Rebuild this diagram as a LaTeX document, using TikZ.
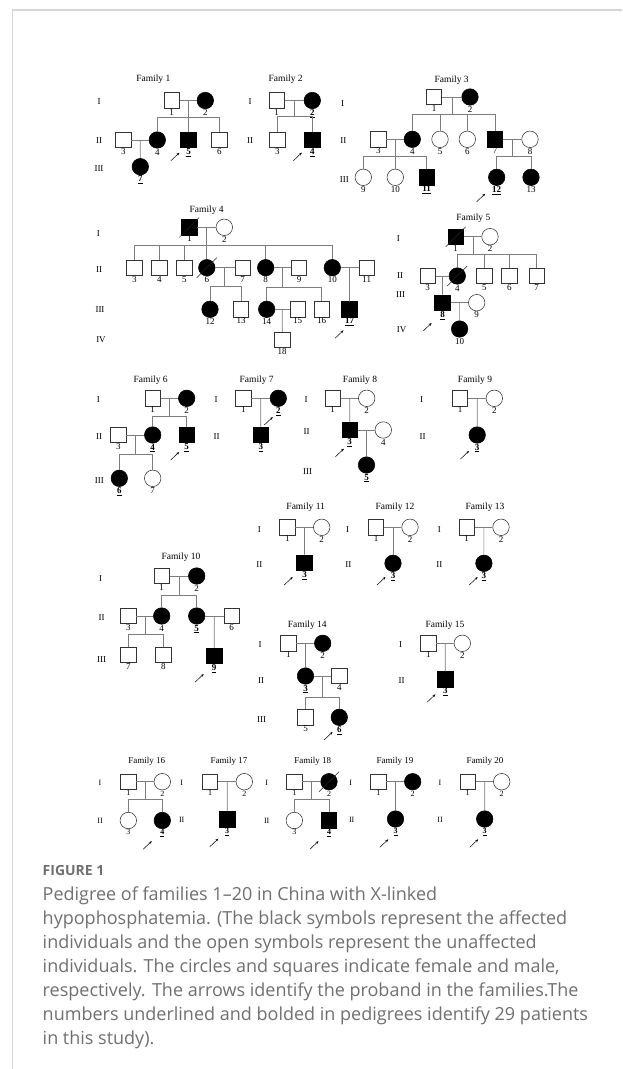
\documentclass[tikz,border=0pt]{standalone}
\usepackage{fontspec}
\setmainfont{Liberation Serif}
\newfontfamily\capfont{Open Sans}
\usetikzlibrary{arrows.meta,calc}
\definecolor{capgray}{RGB}{112,112,112}
\definecolor{framegray}{RGB}{214,214,214}
\definecolor{linegray}{RGB}{125,125,125}
\newcommand{\Pn}[4]{\node[#1,label={[lab]below:{#4}}] (#2) at (#3) {};}
\newcommand{\Bl}[1]{\underline{\textbf{#1}}}
\newcommand{\Mid}[3]{\coordinate (#1) at ($(#2)!0.5!(#3)$); \draw[conn] (#2) -- (#3);}
\newcommand{\Sib}[3]{\coordinate (#1s) at ($(#1)+(0,#2)$); \draw[conn] (#1) -- (#1s); \foreach \ch in {#3} {\draw[conn] (#1s) -| (\ch);}}
\newcommand{\One}[2]{\draw[conn] (#1) -- (#2);}
\newcommand{\Dec}[1]{\draw[black!85,line width=0.5pt] ($(#1)+(-10,10)$) -- ($(#1)+(10,-10)$);}
\newcommand{\Prb}[3]{\draw[prob] ($(#1)+(#2,#3)$) -- ++(8.5,-8);}
\tikzset{
 male/.style={rectangle,draw=black!80,line width=0.55pt,fill=white,minimum size=15.5pt,inner sep=0pt},
 fem/.style={circle,draw=black!80,line width=0.55pt,fill=white,minimum size=16.5pt,inner sep=0pt},
 aff/.style={fill=black,draw=black},
 conn/.style={draw=linegray,line width=0.7pt},
 lab/.style={font=\fontsize{9}{9}\selectfont,inner sep=0.4pt},
 ttl/.style={font=\fontsize{9.5}{10}\selectfont,inner sep=0pt},
 gen/.style={font=\fontsize{9}{10}\selectfont,inner sep=0pt},
 prob/.style={-{Stealth[length=3pt,width=2.4pt]},line width=0.5pt,black},
 capl/.style={font=\capfont\fontsize{18}{24}\selectfont,text=capgray,inner sep=0pt,anchor=base west},
}
\begin{document}
\begin{tikzpicture}[x=1pt,y=-1pt]
\useasboundingbox (0,0) rectangle (622,1069);
\fill[white] (0,0) rectangle (622,1069);
\draw[framegray,line width=1.2pt] (622,10) -- (12.7,10) -- (12.7,1069);

% ---------- Family 1
\node[ttl] (t1) at (153.3,79.3) {Family 1};
\node[gen] (r1a) at (99,101.7) {I};
\node[gen] (r1b) at (99,141) {II};
\node[gen] (r1c) at (99,168.3) {III};
\Pn{male}{p1n1}{171.7,100.5}{1}
\Pn{fem,aff}{p1n2}{205.3,100.5}{2}
\Pn{male}{p1n3}{123.3,140}{3}
\Pn{fem,aff}{p1n4}{157.3,140}{4}
\Pn{male,aff}{p1n5}{188.5,140}{\Bl{5}}
\Pn{male}{p1n6}{219.3,140}{6}
\Pn{fem,aff}{p1n7}{140.3,166.7}{\Bl{7}}
\Mid{p1x1}{p1n1}{p1n2}
\Sib{p1x1}{17}{p1n4,p1n5,p1n6}
\Mid{p1x3}{p1n3}{p1n4}
\One{p1x3}{p1n7}
\Prb{p1n5}{-17.6}{20.7}

% ---------- Family 2
\node[ttl] (t2) at (285.7,79.3) {Family 2};
\node[gen] (r2a) at (250,101.7) {I};
\node[gen] (r2b) at (250,141) {II};
\Pn{male}{p2n1}{276.7,100.5}{1}
\Pn{fem,aff}{p2n2}{312.3,100.5}{\Bl{2}}
\Pn{male}{p2n3}{277.3,140}{3}
\Pn{male,aff}{p2n4}{312.3,140}{\Bl{4}}
\Mid{p2x1}{p2n1}{p2n2}
\Sib{p2x1}{16.2}{p2n3,p2n4}
\Prb{p2n4}{-19}{20.7}

% ---------- Family 3
\node[ttl] (t3) at (451.7,80) {Family 3};
\node[gen] (r3a) at (342.7,103.3) {I};
\node[gen] (r3b) at (343.3,140.7) {II};
\node[gen] (r3c) at (344.3,180) {III};
\Pn{male}{p3n1}{434,97}{1}
\Pn{fem,aff}{p3n2}{470,97}{2}
\Pn{male}{p3n3}{378.3,139.3}{3}
\Pn{fem,aff}{p3n4}{412.3,139.3}{4}
\Pn{fem}{p3n5}{440,139.3}{5}
\Pn{fem}{p3n6}{467.3,139.3}{6}
\Pn{male,aff}{p3n7}{495,139.3}{7}
\Pn{fem}{p3n8}{530,139.3}{8}
\Pn{fem}{p3n9}{363.3,177.3}{9}
\Pn{fem}{p3n10}{395.3,177.3}{10}
\Pn{male,aff}{p3n11}{426.7,177.3}{\Bl{11}}
\Pn{fem,aff}{p3n12}{496.7,177.3}{\Bl{12}}
\Pn{fem,aff}{p3n13}{531,177.3}{13}
\Mid{p3x1}{p3n1}{p3n2}
\Sib{p3x1}{17.3}{p3n4,p3n5,p3n6,p3n7}
\Mid{p3x3}{p3n3}{p3n4}
\Sib{p3x3}{16.7}{p3n9,p3n10,p3n11}
\Mid{p3x7}{p3n7}{p3n8}
\Sib{p3x7}{17.4}{p3n12,p3n13}
\Prb{p3n12}{-20}{24.4}

% ---------- Family 4
\node[ttl] (t4) at (206.7,210) {Family 4};
\node[gen] (r4a) at (98.3,233.3) {I};
\node[gen] (r4b) at (99,270) {II};
\node[gen] (r4c) at (100,309.3) {III};
\node[gen] (r4d) at (101,340) {IV};
\Pn{male,aff}{p4n1}{189.3,227.3}{1}
\Pn{fem}{p4n2}{224.3,227.3}{2}
\Pn{male}{p4n3}{134.3,267.7}{3}
\Pn{male}{p4n4}{159.3,267.7}{4}
\Pn{male}{p4n5}{184.3,267.7}{5}
\Pn{fem,aff}{p4n6}{206.8,267.7}{6}
\Pn{male}{p4n7}{242.7,267.7}{7}
\Pn{fem,aff}{p4n8}{265.7,267.7}{8}
\Pn{male}{p4n9}{299,267.7}{9}
\Pn{fem,aff}{p4n10}{332.3,267.7}{10}
\Pn{male}{p4n11}{366.7,267.7}{11}
\Pn{fem,aff}{p4n12}{210,309.3}{12}
\Pn{male}{p4n13}{241,309.3}{13}
\Pn{fem,aff}{p4n14}{266.7,309.3}{14}
\Pn{male}{p4n15}{297.7,309.3}{15}
\Pn{male}{p4n16}{321.7,309.3}{16}
\Pn{male,aff}{p4n17}{349.5,309.3}{\Bl{17}}
\Pn{male}{p4n18}{282.2,340}{18}
\Mid{p4x1}{p4n1}{p4n2}
\Sib{p4x1}{18.4}{p4n3,p4n4,p4n5,p4n6,p4n8,p4n10}
\Mid{p4x6}{p4n6}{p4n7}
\Sib{p4x6}{18.3}{p4n12,p4n13}
\Mid{p4x8}{p4n8}{p4n9}
\Sib{p4x8}{19.6}{p4n14,p4n16}
\Mid{p4x14}{p4n14}{p4n15}
\One{p4x14}{p4n18}
\Mid{p4x10}{p4n10}{p4n11}
\One{p4x10}{p4n17}
\Dec{p4n1}
\Dec{p4n6}
\Prb{p4n17}{-14.5}{29}

% ---------- Family 5
\node[ttl] (t5) at (473.3,218.3) {Family 5};
\node[gen] (r5a) at (398.3,238.3) {I};
\node[gen] (r5b) at (400,276) {II};
\node[gen] (r5c) at (400.7,294.3) {III};
\node[gen] (r5d) at (401.7,330) {IV};
\Pn{male,aff}{p5n1}{455.7,236.7}{1}
\Pn{fem}{p5n2}{490,236.7}{2}
\Pn{male}{p5n3}{427.7,276}{3}
\Pn{fem,aff}{p5n4}{457.3,276}{4}
\Pn{male}{p5n5}{484.3,276}{5}
\Pn{male}{p5n6}{509.3,276}{6}
\Pn{male}{p5n7}{536.7,276}{7}
\Pn{male,aff}{p5n8}{442.5,302.7}{\Bl{8}}
\Pn{fem}{p5n9}{476.7,302.7}{9}
\Pn{fem,aff}{p5n10}{459.6,329}{10}
\Mid{p5x1}{p5n1}{p5n2}
\Sib{p5x1}{17.6}{p5n4,p5n5,p5n6,p5n7}
\Mid{p5x3}{p5n3}{p5n4}
\One{p5x3}{p5n8}
\Mid{p5x8}{p5n8}{p5n9}
\One{p5x8}{p5n10}
\Dec{p5n1}
\Dec{p5n4}
\Prb{p5n8}{-19.4}{28.3}

% ---------- Family 6
\node[ttl] (t6) at (150.7,380) {Family 6};
\node[gen] (r6a) at (98.3,399.3) {I};
\node[gen] (r6b) at (99,436.7) {II};
\node[gen] (r6c) at (99.3,481) {III};
\Pn{male}{p6n1}{152.7,398.3}{1}
\Pn{fem,aff}{p6n2}{186.7,398.3}{2}
\Pn{male}{p6n3}{118.3,435}{3}
\Pn{fem,aff}{p6n4}{152.7,435}{\Bl{4}}
\Pn{male,aff}{p6n5}{186.7,435}{\Bl{5}}
\Pn{fem,aff}{p6n6}{119.3,478.3}{\Bl{6}}
\Pn{fem}{p6n7}{152.7,478.3}{7}
\Mid{p6x1}{p6n1}{p6n2}
\Sib{p6x1}{18.4}{p6n4,p6n5}
\Mid{p6x3}{p6n3}{p6n4}
\Sib{p6x3}{19.3}{p6n6,p6n7}
\Prb{p6n5}{-16}{25}

% ---------- Family 7
\node[ttl] (t7) at (256.7,380) {Family 7};
\node[gen] (r7a) at (216,399.3) {I};
\node[gen] (r7b) at (216.7,436.7) {II};
\Pn{male}{p7n1}{243.3,398.3}{1}
\Pn{fem,aff}{p7n2}{278.3,398.3}{\Bl{2}}
\Pn{male,aff}{p7n3}{260.8,435}{\Bl{3}}
\Mid{p7x1}{p7n1}{p7n2}
\One{p7x1}{p7n3}
\Prb{p7n2}{-14}{26.7}

% ---------- Family 8
\node[ttl] (t8) at (360,380) {Family 8};
\node[gen] (r8a) at (306,399.3) {I};
\node[gen] (r8b) at (306.7,431.7) {II};
\node[gen] (r8c) at (307.7,471.7) {III};
\Pn{male}{p8n1}{332.7,398.3}{1}
\Pn{fem}{p8n2}{366.7,398.3}{2}
\Pn{male,aff}{p8n3}{349.7,430}{\Bl{3}}
\Pn{fem}{p8n4}{383.3,430}{4}
\Pn{fem,aff}{p8n5}{366.5,465}{\Bl{5}}
\Mid{p8x1}{p8n1}{p8n2}
\One{p8x1}{p8n3}
\Mid{p8x3}{p8n3}{p8n4}
\One{p8x3}{p8n5}
\Prb{p8n3}{-14.3}{26.7}

% ---------- Family 9
\node[ttl] (t9) at (475,380) {Family 9};
\node[gen] (r9a) at (421.7,399.3) {I};
\node[gen] (r9b) at (422.7,436.7) {II};
\Pn{male}{p9n1}{460,398.3}{1}
\Pn{fem}{p9n2}{494.3,398.3}{2}
\Pn{fem,aff}{p9n3}{477.2,435}{\Bl{3}}
\Mid{p9x1}{p9n1}{p9n2}
\One{p9x1}{p9n3}
\Prb{p9n3}{-16.7}{24}

% ---------- Family 10
\node[ttl] (t10) at (181,557.3) {Family 10};
\node[gen] (r10a) at (100.7,578.3) {I};
\node[gen] (r10b) at (101.7,617.3) {II};
\node[gen] (r10c) at (101.7,659.3) {III};
\Pn{male}{p10n1}{161.7,576}{1}
\Pn{fem,aff}{p10n2}{196.7,576}{2}
\Pn{male}{p10n3}{128.3,616}{3}
\Pn{fem,aff}{p10n4}{161.7,616}{4}
\Pn{fem,aff}{p10n5}{196.7,616}{\Bl{5}}
\Pn{male}{p10n6}{231.7,616}{6}
\Pn{male}{p10n7}{128.3,655}{7}
\Pn{male}{p10n8}{163.3,655}{8}
\Pn{male,aff}{p10n9}{214.2,656}{\Bl{9}}
\Mid{p10x1}{p10n1}{p10n2}
\Sib{p10x1}{19}{p10n4,p10n5}
\Mid{p10x3}{p10n3}{p10n4}
\Sib{p10x3}{18}{p10n7,p10n8}
\Mid{p10x5}{p10n5}{p10n6}
\One{p10x5}{p10n9}
\Prb{p10n9}{-19}{26}

% ---------- Family 11
\node[ttl] (t11) at (305.7,507.3) {Family 11};
\node[gen] (r11a) at (259.3,530) {I};
\node[gen] (r11b) at (259.3,565) {II};
\Pn{male}{p11n1}{287.3,527.3}{1}
\Pn{fem}{p11n2}{321.7,527.3}{2}
\Pn{male,aff}{p11n3}{304.5,562.7}{\Bl{3}}
\Mid{p11x1}{p11n1}{p11n2}
\One{p11x1}{p11n3}
\Prb{p11n3}{-20.3}{22.3}

% ---------- Family 12
\node[ttl] (t12) at (395,507.3) {Family 12};
\node[gen] (r12a) at (347.7,530) {I};
\node[gen] (r12b) at (348.3,565) {II};
\Pn{male}{p12n1}{376,527.3}{1}
\Pn{fem}{p12n2}{410,527.3}{2}
\Pn{fem,aff}{p12n3}{393,563.3}{\Bl{3}}
\Mid{p12x1}{p12n1}{p12n2}
\One{p12x1}{p12n3}
\Prb{p12n3}{-16}{21.7}

% ---------- Family 13
\node[ttl] (t13) at (485,507.3) {Family 13};
\node[gen] (r13a) at (439.3,530) {I};
\node[gen] (r13b) at (439.3,565) {II};
\Pn{male}{p13n1}{466.7,527.3}{1}
\Pn{fem}{p13n2}{501,527.3}{2}
\Pn{fem,aff}{p13n3}{483.9,563.3}{\Bl{3}}
\Mid{p13x1}{p13n1}{p13n2}
\One{p13x1}{p13n3}
\Prb{p13n3}{-14.7}{21.7}

% ---------- Family 14
\node[ttl] (t14) at (307.3,625) {Family 14};
\node[gen] (r14a) at (260,645) {I};
\node[gen] (r14b) at (261,680.7) {II};
\node[gen] (r14c) at (261.7,719.3) {III};
\Pn{male}{p14n1}{288.3,643.3}{1}
\Pn{fem,aff}{p14n2}{322.7,643.3}{2}
\Pn{fem,aff}{p14n3}{305.5,676}{\Bl{3}}
\Pn{male}{p14n4}{339.3,676}{4}
\Pn{male}{p14n5}{305.5,717.3}{5}
\Pn{fem,aff}{p14n6}{339.3,717.3}{\Bl{6}}
\Mid{p14x1}{p14n1}{p14n2}
\One{p14x1}{p14n3}
\Mid{p14x3}{p14n3}{p14n4}
\Sib{p14x3}{21.3}{p14n5,p14n6}
\Prb{p14n6}{-15.3}{22.7}

% ---------- Family 15
\node[ttl] (t15) at (445,625) {Family 15};
\node[gen] (r15a) at (400.7,645) {I};
\node[gen] (r15b) at (401.7,680.7) {II};
\Pn{male}{p15n1}{428.3,643.3}{1}
\Pn{fem}{p15n2}{462.3,643.3}{2}
\Pn{male,aff}{p15n3}{445.3,679.3}{\Bl{3}}
\Mid{p15x1}{p15n1}{p15n2}
\One{p15x1}{p15n3}
\Prb{p15n3}{-18.3}{23}

% ---------- Families 16-20
\begin{scope}[lab/.style={font=\fontsize{8}{8}\selectfont,inner sep=0.4pt},
  gen/.style={font=\fontsize{8}{9}\selectfont,inner sep=0pt},
  ttl/.style={font=\fontsize{9}{10}\selectfont,inner sep=0pt}]
\node[ttl] (t16) at (146.7,761.7) {Family 16};
\node[gen] (r16a) at (100,783.3) {I};
\node[gen] (r16b) at (100,821) {II};
\Pn{male}{p16n1}{128.3,781.7}{1}
\Pn{fem}{p16n2}{162.3,781.7}{2}
\Pn{fem}{p16n3}{128.3,820.5}{3}
\Pn{fem,aff}{p16n4}{162.3,820.5}{\Bl{4}}
\Mid{p16x1}{p16n1}{p16n2}
\Sib{p16x1}{17.6}{p16n3,p16n4}
\Prb{p16n4}{-19}{28.6}

\node[ttl] (t17) at (229,761.7) {Family 17};
\node[gen] (r17a) at (181.7,783.3) {I};
\node[gen] (r17b) at (181.7,820) {II};
\Pn{male}{p17n1}{210,781.7}{1}
\Pn{fem}{p17n2}{244.3,781.7}{2}
\Pn{male,aff}{p17n3}{227.2,819.3}{\Bl{3}}
\Mid{p17x1}{p17n1}{p17n2}
\One{p17x1}{p17n3}
\Prb{p17n3}{-17.4}{27.4}

\node[ttl] (t18) at (312.7,761.7) {Family 18};
\node[gen] (r18a) at (266.7,783.3) {I};
\node[gen] (r18b) at (266.7,821) {II};
\Pn{male}{p18n1}{294.3,781.7}{1}
\Pn{fem,aff}{p18n2}{329,781.7}{2}
\Pn{fem}{p18n3}{294.3,820.5}{3}
\Pn{male,aff}{p18n4}{329,820.5}{\Bl{4}}
\Mid{p18x1}{p18n1}{p18n2}
\Sib{p18x1}{17.6}{p18n3,p18n4}
\Dec{p18n2}
\Prb{p18n4}{-19}{28.6}

\node[ttl] (t19) at (395,761.7) {Family 19};
\node[gen] (r19a) at (350.7,783.3) {I};
\node[gen] (r19b) at (351.7,820) {II};
\Pn{male}{p19n1}{378.3,781.7}{1}
\Pn{fem,aff}{p19n2}{412.7,781.7}{2}
\Pn{fem,aff}{p19n3}{395.5,819}{\Bl{3}}
\Mid{p19x1}{p19n1}{p19n2}
\One{p19x1}{p19n3}
\Prb{p19n3}{-15.7}{28.3}

\node[ttl] (t20) at (485,761.7) {Family 20};
\node[gen] (r20a) at (440,783.3) {I};
\node[gen] (r20b) at (440,820) {II};
\Pn{male}{p20n1}{467.7,781.7}{1}
\Pn{fem}{p20n2}{501.7,781.7}{2}
\Pn{fem,aff}{p20n3}{484.7,819}{\Bl{3}}
\Mid{p20x1}{p20n1}{p20n2}
\One{p20x1}{p20n3}
\Prb{p20n3}{-15}{28.3}
\end{scope}

% ---------- Caption
\node[capl,font=\capfont\bfseries\fontsize{14}{16}\selectfont] (fig) at (42.5,875) {FIGURE 1};
\node[capl] (cap1) at (42.5,900) {Pedigree of families 1–20 in China with X-linked};
\node[capl] (cap2) at (42.5,924) {hypophosphatemia. (The black symbols represent the affected};
\node[capl] (cap3) at (42.5,948) {individuals and the open symbols represent the unaffected};
\node[capl] (cap4) at (42.5,972) {individuals. The circles and squares indicate female and male,};
\node[capl] (cap5) at (42.5,996) {respectively. The arrows identify the proband in the families.The};
\node[capl] (cap6) at (42.5,1020) {numbers underlined and bolded in pedigrees identify 29 patients};
\node[capl] (cap7) at (42.5,1044) {in this study).};
\end{tikzpicture}
\end{document}
